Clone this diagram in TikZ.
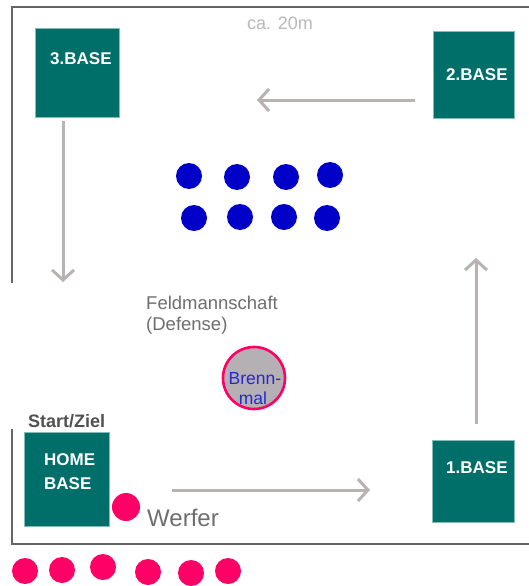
\documentclass[tikz,border=0pt]{standalone}
\usepackage{fontspec}
\setmainfont{Liberation Sans}
\usetikzlibrary{arrows.meta}
\definecolor{baseteal}{RGB}{0,110,105}
\definecolor{baserim}{RGB}{130,190,185}
\definecolor{framegray}{RGB}{100,100,100}
\definecolor{pathgray}{RGB}{185,178,178}
\definecolor{fieldblue}{RGB}{0,0,200}
\definecolor{teampink}{RGB}{255,0,102}
\definecolor{textgray}{RGB}{110,110,110}
\definecolor{labelgray}{RGB}{80,80,80}
\definecolor{notegray}{RGB}{185,185,185}
\definecolor{stakefill}{RGB}{180,176,180}
\definecolor{stakeblue}{RGB}{40,40,205}
\tikzset{
  x=1pt, y=-1pt,
  basebox/.style={draw=baserim, line width=0.8pt, fill=baseteal},
  basetext/.style={anchor=base west, text=white, font=\bfseries\fontsize{17}{17}\selectfont, inner sep=0pt},
  frameline/.style={draw=framegray, line width=2pt},
  runpath/.style={draw=pathgray, line width=3pt, -{Straight Barb[length=10pt,width=22pt]}},
  fielder/.style={circle, fill=fieldblue, minimum size=26pt, inner sep=0pt},
  batter/.style={circle, fill=teampink, minimum size=26pt, inner sep=0pt},
}
\begin{document}
\begin{tikzpicture}
\useasboundingbox (0,0) rectangle (529,586);
\fill[white] (0,0) rectangle (529,586);

% playing field outline (open on the right and partly on the left)
\draw[frameline] (12,283) -- (12,7) -- (529,7);
\draw[frameline] (12,429) -- (12,544) -- (529,544);

% distance note
\node[anchor=base west, text=notegray, font=\fontsize{18}{18}\selectfont, inner sep=0pt] (dist) at (247,30) {ca. 20m};

% the four bases
\path[basebox] (35,28) rectangle (119,117);
\node[basetext] (b3) at (50,65) {3.BASE};
\path[basebox] (433,31) rectangle (514,118);
\node[basetext] (b2) at (446,81) {2.BASE};
\path[basebox] (432,440) rectangle (514,522);
\node[basetext] (b1) at (446,473) {1.BASE};
\path[basebox] (24,432) rectangle (109,526);
\node[basetext] (hb) at (44,465) {HOME};
\node[basetext] (hb2) at (44,489) {BASE};
\node[anchor=base west, text=labelgray, font=\bfseries\fontsize{18}{18}\selectfont, inner sep=0pt] (start) at (28,427) {Start/Ziel};

% running direction
\coordinate (p1a) at (172,490);  \coordinate (p1b) at (370,490);
\coordinate (p2a) at (476,424);  \coordinate (p2b) at (476,258);
\coordinate (p3a) at (415,100);  \coordinate (p3b) at (257,100);
\coordinate (p4a) at (63,121);   \coordinate (p4b) at (63,282);
\draw[runpath] (p1a) -- (p1b);
\draw[runpath] (p2a) -- (p2b);
\draw[runpath] (p3a) -- (p3b);
\draw[runpath] (p4a) -- (p4b);

% fielding team
\node[fielder] (f1) at (189,176) {};
\node[fielder] (f2) at (237,177) {};
\node[fielder] (f3) at (286,177) {};
\node[fielder] (f4) at (330,175) {};
\node[fielder] (f5) at (194,218) {};
\node[fielder] (f6) at (240,217) {};
\node[fielder] (f7) at (284,217) {};
\node[fielder] (f8) at (327,218) {};
\node[anchor=base west, text=textgray, font=\fontsize{18.5}{18.5}\selectfont, inner sep=0pt] (fm) at (146,309) {Feldmannschaft};
\node[anchor=base west, text=textgray, font=\fontsize{18.5}{18.5}\selectfont, inner sep=0pt] (fm2) at (146,330) {(Defense)};

% burning stake
\node[circle, draw=teampink, line width=2.6pt, fill=stakefill, minimum size=62pt, inner sep=0pt] (stake) at (254,378) {};
\node[anchor=base, text=stakeblue, font=\fontsize{17.5}{17.5}\selectfont, inner sep=0pt] (st1) at (255,384) {Brenn-};
\node[anchor=base, text=stakeblue, font=\fontsize{17.5}{17.5}\selectfont, inner sep=0pt] (st2) at (253,404) {mal};

% pitcher
\node[batter, minimum size=28pt] (pitch) at (126,507) {};
\node[anchor=base west, text=textgray, font=\fontsize{24}{24}\selectfont, inner sep=0pt] (wf) at (147,526) {Werfer};

% batting team waiting outside
\node[batter] (t1) at (25,571) {};
\node[batter] (t2) at (62,570) {};
\node[batter] (t3) at (103,567) {};
\node[batter] (t4) at (148,572) {};
\node[batter] (t5) at (191,573) {};
\node[batter] (t6) at (228,571) {};
\end{tikzpicture}
\end{document}
